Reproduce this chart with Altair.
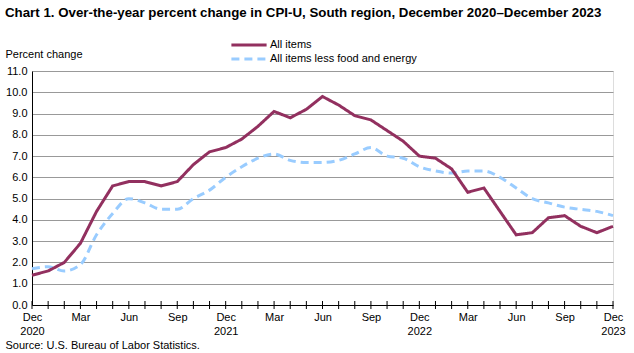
import altair as alt
import pandas as pd

months = ["Dec 2020",
          "Jan 2021", "Feb 2021", "Mar 2021", "Apr 2021", "May 2021", "Jun 2021",
          "Jul 2021", "Aug 2021", "Sep 2021", "Oct 2021", "Nov 2021", "Dec 2021",
          "Jan 2022", "Feb 2022", "Mar 2022", "Apr 2022", "May 2022", "Jun 2022",
          "Jul 2022", "Aug 2022", "Sep 2022", "Oct 2022", "Nov 2022", "Dec 2022",
          "Jan 2023", "Feb 2023", "Mar 2023", "Apr 2023", "May 2023", "Jun 2023",
          "Jul 2023", "Aug 2023", "Sep 2023", "Oct 2023", "Nov 2023", "Dec 2023"]

all_items = [1.4, 1.6, 2.0, 2.9, 4.4, 5.6, 5.8, 5.8, 5.6, 5.8, 6.6, 7.2, 7.4,
             7.8, 8.4, 9.1, 8.8, 9.2, 9.8, 9.4, 8.9, 8.7, 8.2, 7.7, 7.0,
             6.9, 6.4, 5.3, 5.5, 4.4, 3.3, 3.4, 4.1, 4.2, 3.7, 3.4, 3.7]

core = [1.7, 1.8, 1.6, 1.9, 3.3, 4.3, 5.0, 4.8, 4.5, 4.5, 5.0, 5.4, 6.0,
        6.5, 6.9, 7.1, 6.8, 6.7, 6.7, 6.8, 7.1, 7.4, 7.0, 6.9, 6.5,
        6.3, 6.2, 6.3, 6.3, 6.0, 5.5, 5.0, 4.8, 4.6, 4.5, 4.4, 4.2]

series_names = ["All items", "All items less food and energy"]
y_ticks = [0, 1, 2, 3, 4, 5, 6, 7, 8, 9, 10, 11]

title_text = "Chart 1. Over-the-year percent change in CPI-U, South region, December 2020\u2013December 2023"
source_text = "Source: U.S. Bureau of Labor Statistics."

rows = []
for m, v in zip(months, all_items):
    rows.append({"month": m, "value": v, "series": series_names[0]})
for m, v in zip(months, core):
    rows.append({"month": m, "value": v, "series": series_names[1]})
df = pd.DataFrame(rows)
tick_df = pd.DataFrame({"month": months})

FONT = "Liberation Sans"
W, H = 581, 234

label_expr = ("test(/^Dec/, datum.label) ? split(datum.label, ' ') : "
              "(test(/^(Mar|Jun|Sep)/, datum.label) ? slice(datum.label, 0, 3) : '')")

x_scale = alt.Scale(type="point", padding=0)
y_scale = alt.Scale(domain=[0, 11], nice=False)

x_axis = alt.Axis(orient="bottom", title=source_text, labelAngle=0,
                  labelExpr=label_expr, labelLineHeight=14,
                  labelFont=FONT, labelFontSize=11, labelColor="#000",
                  labelFontWeight="normal",
                  labelPadding=6, ticks=False, tickSize=0,
                  domainColor="#000", grid=False,
                  titleX=-27, titleY=43, titleAlign="left",
                  titleBaseline="alphabetic", titleFont=FONT,
                  titleFontSize=11, titleFontWeight="normal",
                  titleColor="#000")

y_axis = alt.Axis(values=y_ticks, format=".1f", title="Percent change",
                  titleAngle=0, titleX=-27, titleY=-14, titleAlign="left",
                  titleBaseline="alphabetic", titleFont=FONT,
                  titleFontSize=11, titleFontWeight="normal",
                  titleColor="#000",
                  labelFont=FONT, labelFontSize=11, labelColor="#000",
                  labelPadding=5, tickSize=0, domainColor="#000",
                  gridColor="#999999", gridWidth=1)

x_enc = alt.X("month:O", sort=months, scale=x_scale, axis=x_axis)
y_enc = alt.Y("value:Q", scale=y_scale, axis=y_axis)

legend = alt.Legend(title=None, orient="none", legendX=210, legendY=-33,
                    symbolType="M-3.2,0H3.2", symbolSize=121, symbolStrokeWidth=3,
                    labelOffset=14, labelFont=FONT, labelFontSize=11,
                    labelColor="#000", rowPadding=1)

color_enc = alt.Color("series:N",
                      scale=alt.Scale(domain=series_names, range=["#92305F", "#99CCFF"]),
                      legend=legend)
dash_enc = alt.StrokeDash("series:N",
                          scale=alt.Scale(domain=series_names, range=[[1, 0], [8, 5]]),
                          legend=legend)

base = alt.Chart(df)

line_all = base.transform_filter(alt.datum.series == series_names[0]).mark_line(
    strokeWidth=3).encode(x=x_enc, y=y_enc, color=color_enc, strokeDash=dash_enc)

line_core = base.transform_filter(alt.datum.series == series_names[1]).mark_line(
    strokeWidth=3, interpolate="monotone").encode(x=x_enc, y=y_enc,
                                                  color=color_enc, strokeDash=dash_enc)

month_ticks = alt.Chart(tick_df).mark_tick(
    orient="vertical", size=8, thickness=1, color="#000", opacity=1).encode(
    x=alt.X("month:O", sort=months, scale=x_scale, axis=x_axis),
    y=alt.Y(datum=0, type="quantitative", scale=y_scale, axis=y_axis))

chart = alt.layer(line_core, line_all, month_ticks).properties(
    width=W, height=H,
    autosize=alt.AutoSizeParams(type="none"),
    padding={"left": 32, "top": 71, "right": 21, "bottom": 48},
    title=alt.TitleParams(title_text, anchor="start", frame="group", dx=-27,
                          offset=8, baseline="alphabetic",
                          font=FONT, fontSize=13.3, fontWeight="bold", color="#000"),
).configure_view(stroke="#999999", strokeWidth=1).configure(background="white")

chart.save("out.html", embed_options={"renderer": "svg", "actions": False})
